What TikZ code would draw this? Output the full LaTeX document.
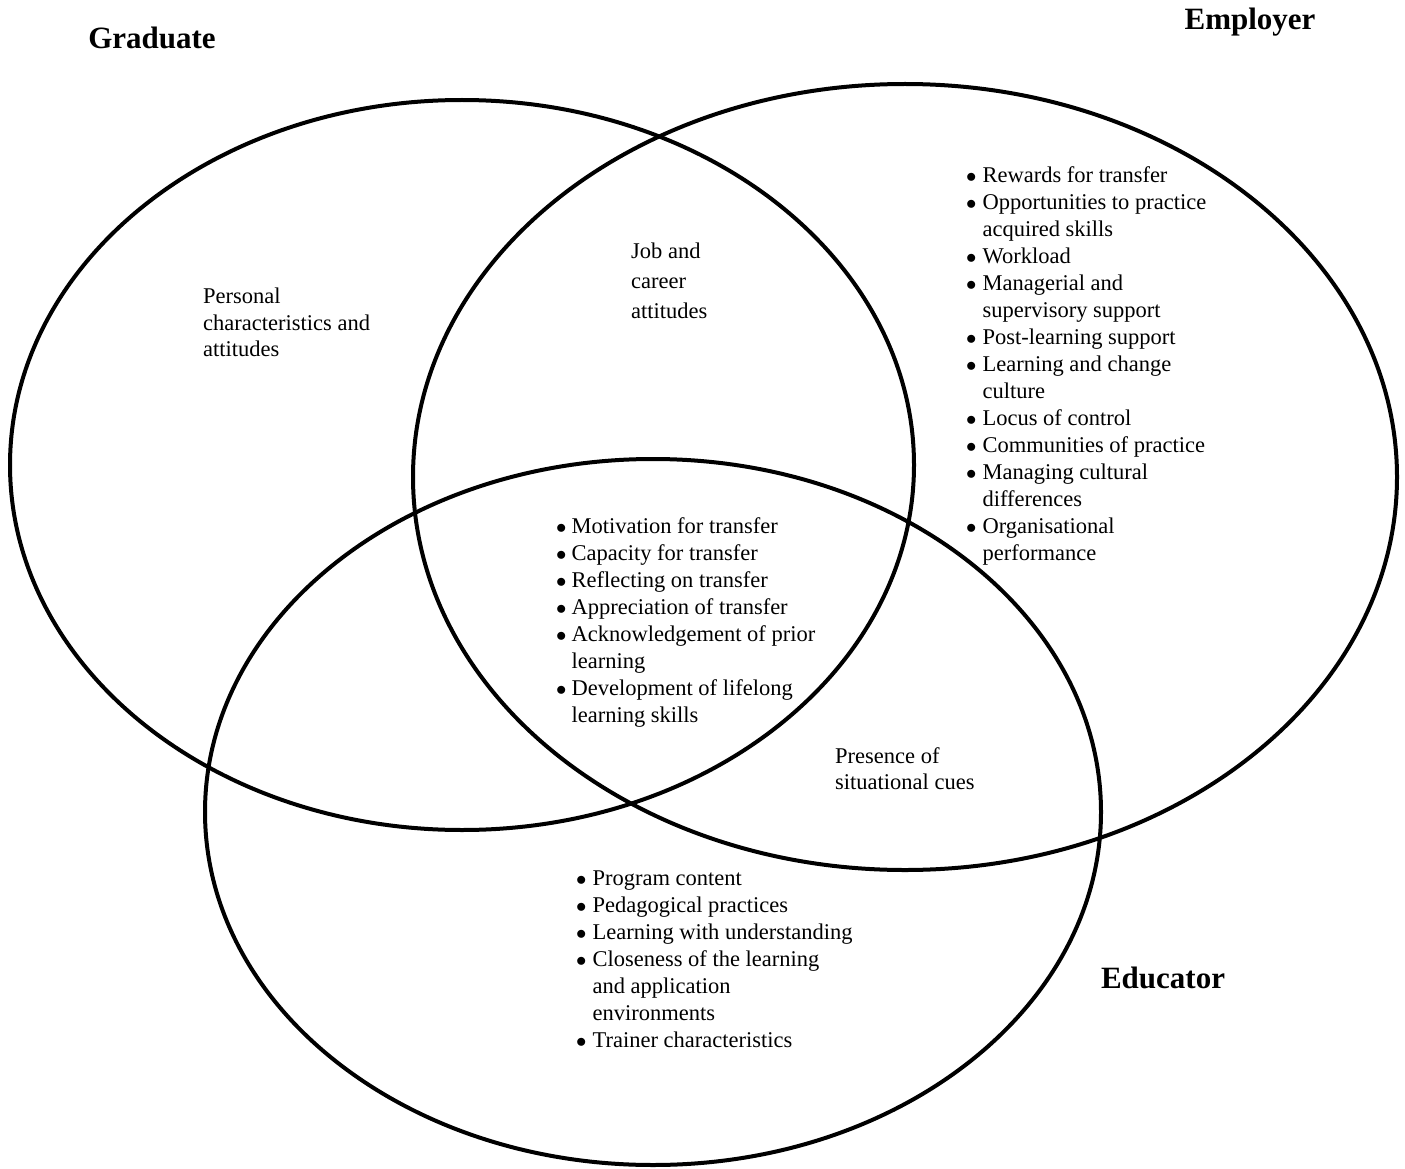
\documentclass[tikz,border=0pt]{standalone}
\usepackage{fontspec}
\setmainfont{Liberation Serif}
\begin{document}
\begin{tikzpicture}[x=1pt,y=-1pt,
  ring/.style={draw=black,line width=4pt},
  title/.style={font=\fontsize{31}{34}\selectfont\bfseries,inner sep=0pt},
  txt/.style={font=\fontsize{22.5}{26.5}\selectfont,align=left,anchor=north west,inner sep=0pt},
  lst/.style={font=\fontsize{22.5}{27}\selectfont,anchor=north west,inner sep=0pt}]
\useasboundingbox (0,0) rectangle (1405,1169);
\draw[ring] (462,465) ellipse [x radius=452, y radius=365];
\draw[ring] (905,477) ellipse [x radius=492, y radius=393];
\draw[ring] (653,812) ellipse [x radius=448, y radius=353];
\node[title] (grad) at (152,38) {Graduate};
\node[title] (emp) at (1250,22) {Employer};
\node[title] (edu) at (1163,978) {Educator};
\node[txt] (pers) at (203,288) {Personal\\characteristics and\\attitudes};
\node[txt,font=\fontsize{22.5}{30}\selectfont] (job) at (631,243) {Job and\\career\\attitudes};
\node[txt] (pres) at (835,747) {Presence of\\situational cues};
\node[lst] (emplist) at (966,163) {\begin{tabular}{@{}l@{\hspace{6pt}}l@{}}
$\bullet$ & Rewards for transfer\\
$\bullet$ & Opportunities to practice\\
 & acquired skills\\
$\bullet$ & Workload\\
$\bullet$ & Managerial and\\
 & supervisory support\\
$\bullet$ & Post-learning support\\
$\bullet$ & Learning and change\\
 & culture\\
$\bullet$ & Locus of control\\
$\bullet$ & Communities of practice\\
$\bullet$ & Managing cultural\\
 & differences\\
$\bullet$ & Organisational\\
 & performance
\end{tabular}};
\node[lst] (midlist) at (556,514) {\begin{tabular}{@{}l@{\hspace{5pt}}l@{}}
$\bullet$ & Motivation for transfer\\
$\bullet$ & Capacity for transfer\\
$\bullet$ & Reflecting on transfer\\
$\bullet$ & Appreciation of transfer\\
$\bullet$ & Acknowledgement of prior\\
 & learning\\
$\bullet$ & Development of lifelong\\
 & learning skills
\end{tabular}};
\node[lst] (edulist) at (576,866) {\begin{tabular}{@{}l@{\hspace{6pt}}l@{}}
$\bullet$ & Program content\\
$\bullet$ & Pedagogical practices\\
$\bullet$ & Learning with understanding\\
$\bullet$ & Closeness of the learning\\
 & and application\\
 & environments\\
$\bullet$ & Trainer characteristics
\end{tabular}};
\end{tikzpicture}
\end{document}
